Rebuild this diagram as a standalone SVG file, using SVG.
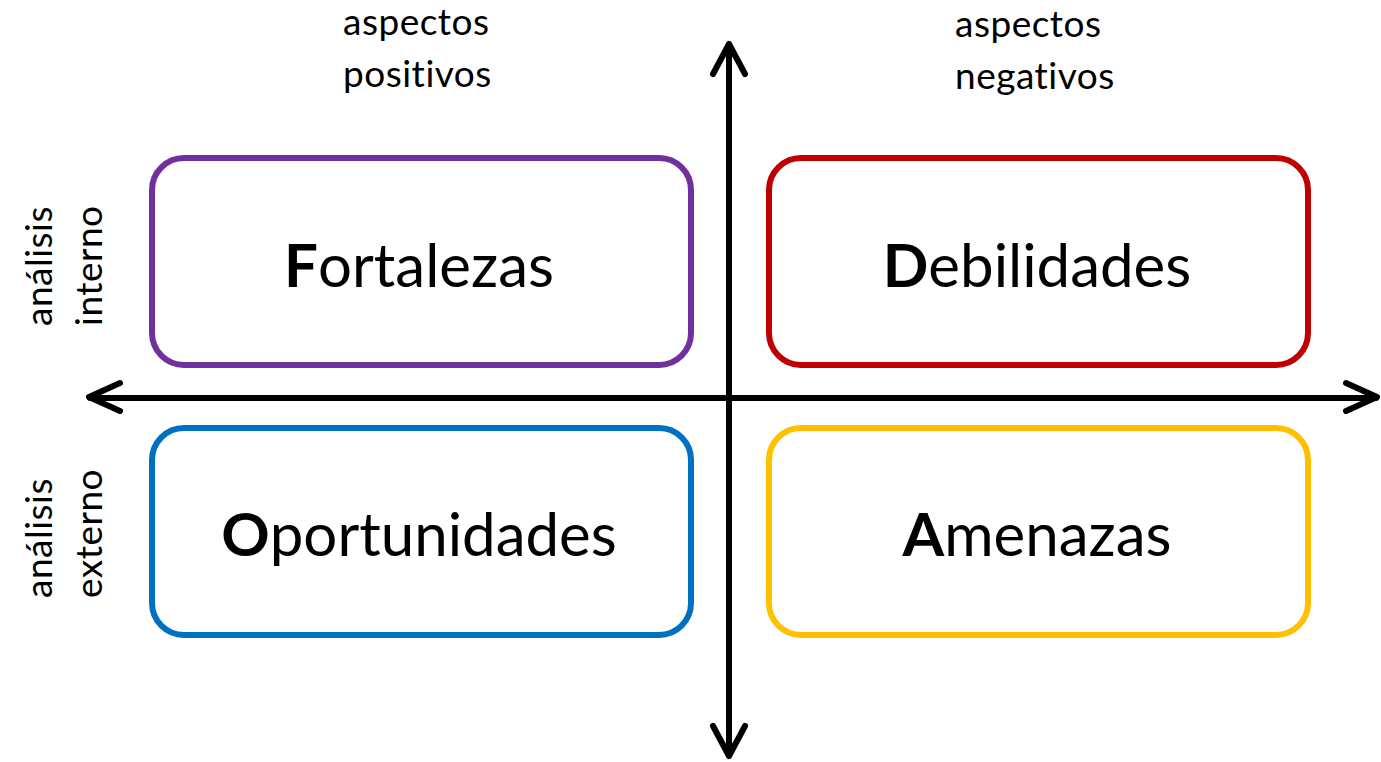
<svg xmlns="http://www.w3.org/2000/svg" width="1381" height="762" viewBox="0 0 1381 762">
<style>
.box{fill:#fff;stroke-width:6}
.t{font-family:Lato,"Open Sans",sans-serif;font-size:60px;fill:#000;text-anchor:middle}
.t tspan.b{font-weight:bold}
.l{font-family:Lato,"Open Sans",sans-serif;font-size:37px;fill:#000;letter-spacing:0.5px}
.ax{stroke:#000;stroke-width:6;fill:none;stroke-linecap:round;stroke-linejoin:round}
</style>
<rect width="1381" height="762" fill="#fff"/>
<g id="connectors">
<line class="ax" x1="729" y1="45" x2="729" y2="755"/>
<polyline class="ax" points="713,74 729,44 745,74"/>
<polyline class="ax" points="713,726 729,756 745,726"/>
<line class="ax" x1="90" y1="398" x2="1376" y2="398"/>
<polyline class="ax" points="120,383 89,397 120,411"/>
<polyline class="ax" points="1346,383 1377,397 1346,411"/>
</g>
<g id="fortalezas">
<rect class="box" x="152" y="158" width="539" height="207" rx="32" stroke="#7030a0"/>
<text class="t" x="419" y="287"><tspan class="b">F</tspan>ortalezas</text>
</g>
<g id="debilidades">
<rect class="box" x="769" y="158" width="539" height="207" rx="32" stroke="#c00000"/>
<text class="t" x="1037" y="287"><tspan class="b">D</tspan>ebilidades</text>
</g>
<g id="oportunidades">
<rect class="box" x="152" y="428" width="539" height="207" rx="32" stroke="#0070c0"/>
<text class="t" x="419" y="556"><tspan class="b">O</tspan>portunidades</text>
</g>
<g id="amenazas">
<rect class="box" x="769" y="428" width="539" height="207" rx="32" stroke="#ffc000"/>
<text class="t" x="1037" y="556"><tspan class="b">A</tspan>menazas</text>
</g>
<g id="labels">
<text class="l" x="343" y="35">aspectos</text>
<text class="l" x="343" y="87">positivos</text>
<text class="l" x="955" y="37">aspectos</text>
<text class="l" x="955" y="89">negativos</text>
<text class="l" transform="translate(52,326) rotate(-90)">análisis</text>
<text class="l" transform="translate(102,326) rotate(-90)">interno</text>
<text class="l" transform="translate(52,598) rotate(-90)">análisis</text>
<text class="l" transform="translate(102,598) rotate(-90)">externo</text>
</g>
</svg>
